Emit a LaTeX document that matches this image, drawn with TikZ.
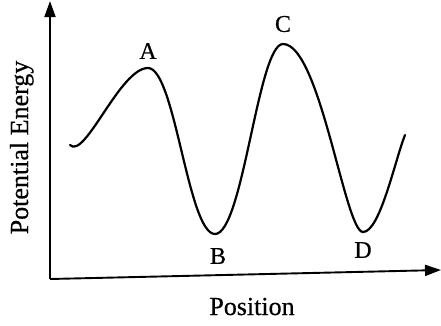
\documentclass[tikz,border=0pt]{standalone}
\usepackage{fontspec}
\setmainfont{Liberation Serif}
\newfontfamily\scanfont{Liberation Serif}[FakeBold=0.5]
\usetikzlibrary{arrows.meta}
\begin{document}
\begin{tikzpicture}[x=1pt,y=-1pt,
  axis/.style={line width=1.9pt,-{Triangle[length=16pt,width=11pt]}},
  curve/.style={line width=2.2pt,line cap=round},
  ptlabel/.style={font=\scanfont\fontsize{24}{24}\selectfont,inner sep=0pt},
  axlabel/.style={font=\scanfont\fontsize{26}{26}\selectfont,inner sep=0pt}]
\useasboundingbox (0,0) rectangle (441,325);
\coordinate (O) at (50,279);
\coordinate (ytop) at (50,1);
\coordinate (xend) at (441,270);
\draw[axis] (O) -- (ytop);
\draw[axis] (O) -- (xend);
\draw[curve] (70,145) .. controls (85,160) and (120,68) .. (148,68)
  .. controls (175,68) and (188,234) .. (215,234)
  .. controls (243,234) and (258,44) .. (283,44)
  .. controls (320,44) and (345,232) .. (363,232)
  .. controls (380,232) and (395,160) .. (405,135);
\node[ptlabel] (A) at (148,51) {A};
\node[ptlabel] (B) at (218,256) {B};
\node[ptlabel] (C) at (283,24) {C};
\node[ptlabel] (D) at (363,250) {D};
\node[axlabel,anchor=base] (pos) at (252,315) {Position};
\node[axlabel,anchor=base,rotate=90] (pe) at (28,147.5) {Potential Energy};
\end{tikzpicture}
\end{document}
